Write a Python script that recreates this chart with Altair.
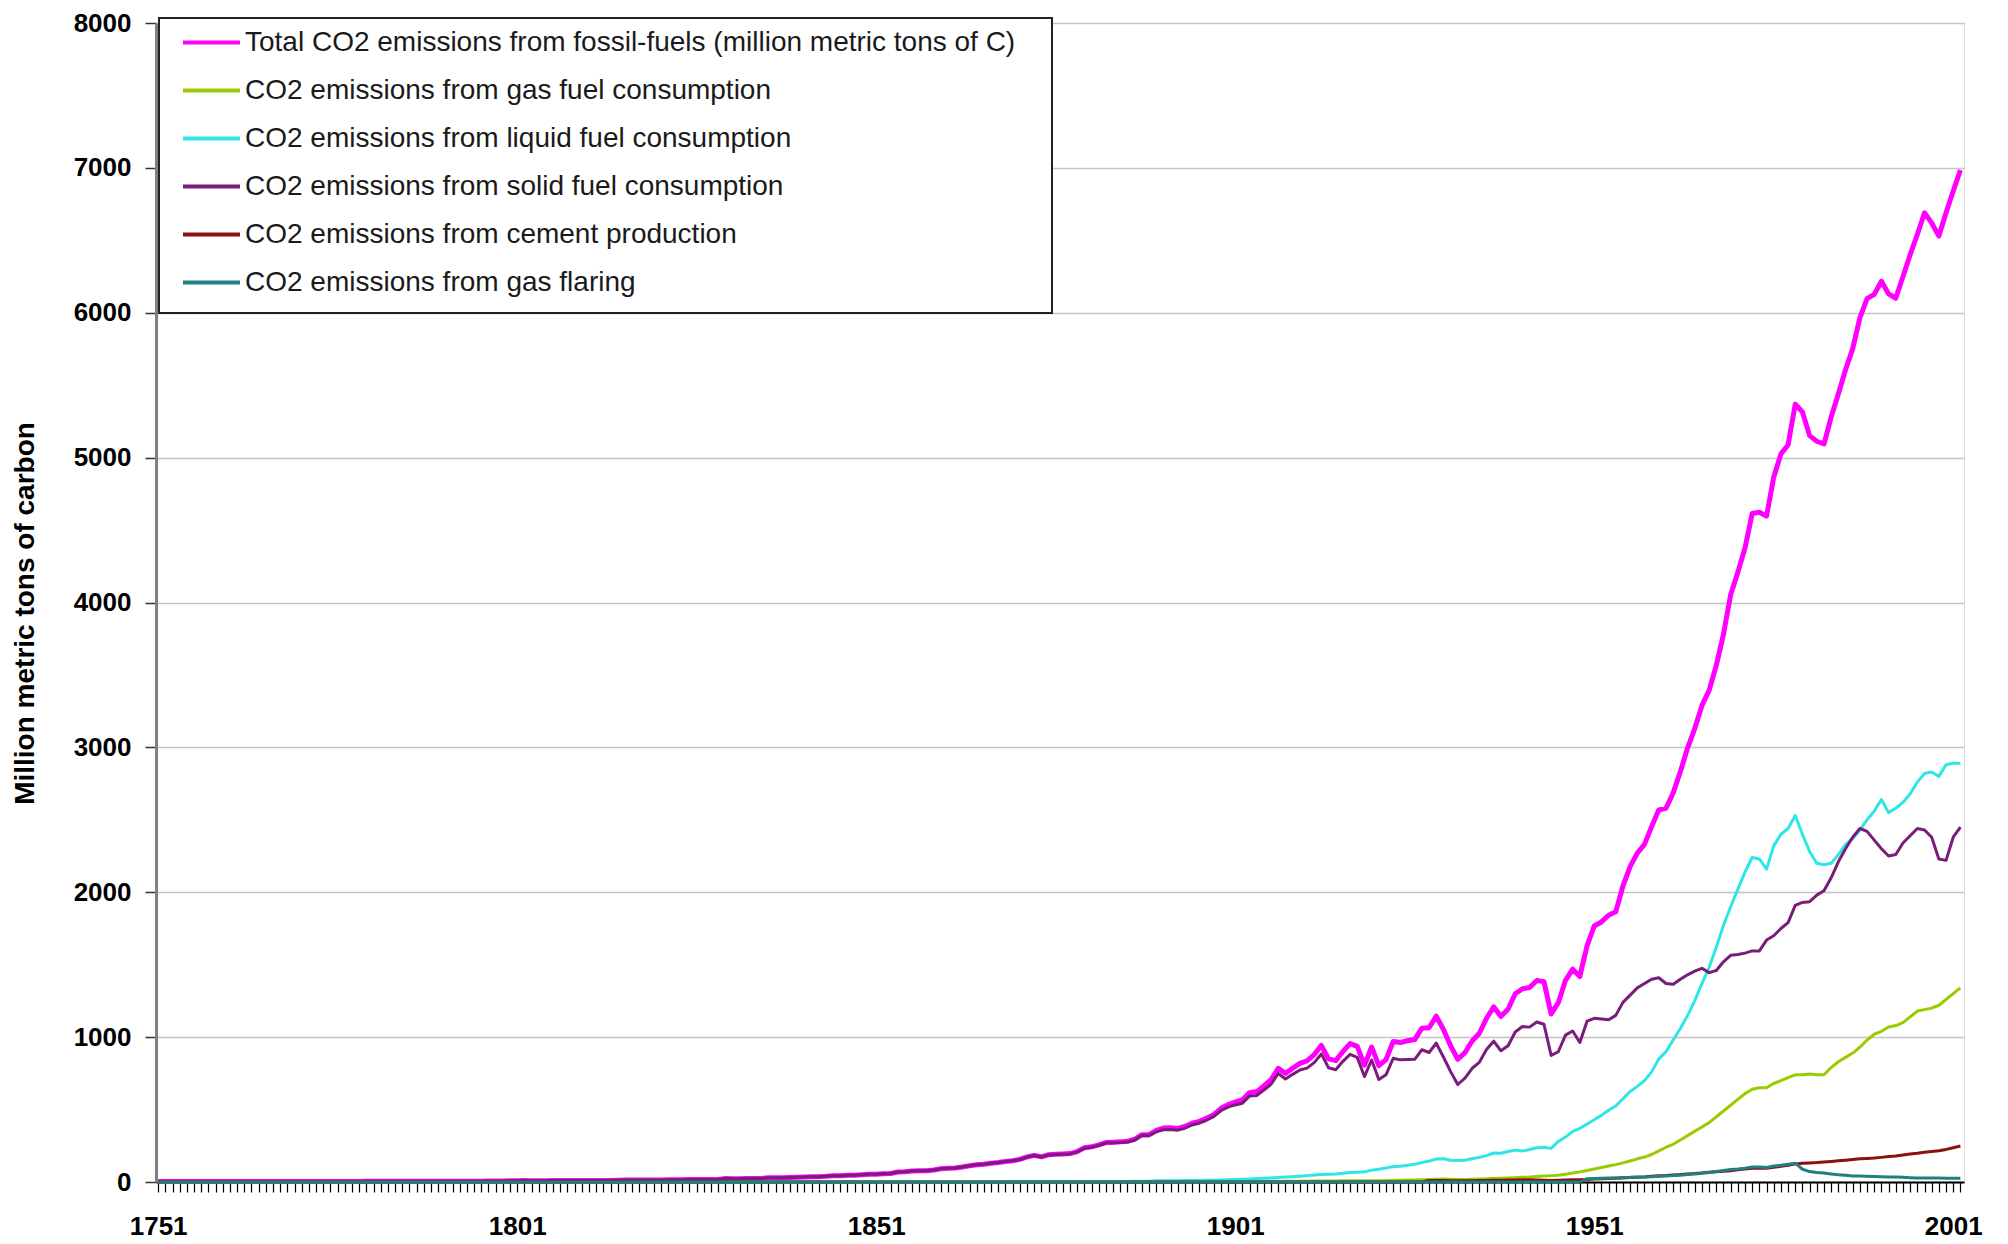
import altair as alt
import pandas as pd

# ---------------- data (million metric tons of carbon) ----------------
FIRST_YEAR = 1751
LAST_YEAR = 2002
YEARS = list(range(FIRST_YEAR, LAST_YEAR + 1))
LABEL_YEARS = [1751, 1801, 1851, 1901, 1951, 2001]
Y_TICKS = [0, 1000, 2000, 3000, 4000, 5000, 6000, 7000, 8000]

SERIES = [
    "Total CO2 emissions from fossil-fuels (million metric tons of C)",
    "CO2 emissions from gas fuel consumption",
    "CO2 emissions from liquid fuel consumption",
    "CO2 emissions from solid fuel consumption",
    "CO2 emissions from cement production",
    "CO2 emissions from gas flaring",
]

# Total, 1751-2002
TOTAL = [
    3, 3, 3, 3, 3, 3, 3, 3, 3, 3,
    3, 3, 3, 3, 3, 3, 3, 3, 3, 3,
    4, 4, 4, 4, 4, 4, 4, 4, 4, 5,
    5, 5, 5, 5, 5, 5, 5, 5, 5, 5,
    6, 6, 6, 6, 6, 6, 7, 7, 7, 8,
    8, 10, 9, 9, 9, 10, 10, 10, 10, 10,
    11, 11, 11, 11, 12, 13, 14, 14, 14, 14,
    14, 15, 16, 16, 17, 17, 18, 18, 18, 24,
    23, 23, 24, 24, 25, 29, 29, 30, 31, 33,
    34, 36, 37, 39, 43, 43, 46, 47, 50, 54,
    54, 57, 59, 69, 71, 76, 77, 78, 83, 91,
    95, 97, 104, 112, 119, 122, 130, 135, 142, 147,
    156, 173, 184, 174, 188, 191, 194, 196, 210, 236,
    243, 256, 272, 275, 277, 281, 295, 327, 327, 356,
    372, 374, 370, 383, 406, 419, 440, 465, 507, 534,
    552, 566, 617, 624, 663, 707, 784, 750, 785, 819,
    836, 879, 943, 850, 838, 901, 955, 936, 806, 932,
    803, 845, 970, 963, 975, 983, 1062, 1065, 1145, 1053,
    940, 847, 893, 973, 1027, 1130, 1209, 1142, 1192, 1299,
    1334, 1342, 1391, 1383, 1160, 1238, 1392, 1469, 1419, 1630,
    1767, 1795, 1841, 1865, 2043, 2177, 2270, 2330, 2454, 2569,
    2580, 2686, 2833, 2995, 3130, 3288, 3393, 3566, 3780, 4053,
    4208, 4376, 4614, 4623, 4596, 4864, 5026, 5087, 5369, 5315,
    5152, 5113, 5094, 5280, 5439, 5607, 5752, 5965, 6097, 6127,
    6217, 6130, 6100, 6250, 6400, 6540, 6690, 6620, 6530, 6690,
    6840, 6985,
]

# Solid fuel, 1751-2002
SOLID = [
    3, 3, 3, 3, 3, 3, 3, 3, 3, 3,
    3, 3, 3, 3, 3, 3, 3, 3, 3, 3,
    4, 4, 4, 4, 4, 4, 4, 4, 4, 5,
    5, 5, 5, 5, 5, 5, 5, 5, 5, 5,
    6, 6, 6, 6, 6, 6, 7, 7, 7, 8,
    8, 10, 9, 9, 9, 10, 10, 10, 10, 10,
    11, 11, 11, 11, 12, 13, 14, 14, 14, 14,
    14, 15, 16, 16, 17, 17, 18, 18, 18, 24,
    23, 23, 24, 24, 25, 29, 29, 30, 31, 33,
    34, 36, 37, 39, 43, 43, 46, 47, 50, 54,
    54, 57, 59, 69, 71, 76, 77, 78, 83, 91,
    95, 97, 104, 112, 119, 122, 130, 135, 142, 146,
    155, 172, 183, 173, 187, 190, 192, 194, 208, 233,
    240, 253, 269, 271, 272, 276, 289, 321, 319, 346,
    361, 363, 358, 371, 394, 406, 426, 451, 492, 517,
    532, 544, 593, 597, 634, 675, 749, 711, 743, 773,
    786, 824, 884, 789, 775, 833, 881, 860, 728, 842,
    707, 740, 854, 843, 846, 847, 913, 894, 958, 863,
    762, 673, 717, 785, 826, 914, 972, 906, 940, 1035,
    1073, 1069, 1104, 1089, 874, 899, 1014, 1042, 963, 1110,
    1130, 1125, 1120, 1150, 1240, 1290, 1340, 1370, 1400, 1410,
    1370, 1365, 1400, 1430, 1455, 1475, 1445, 1460, 1520, 1565,
    1570, 1580, 1595, 1595, 1670, 1700, 1750, 1790, 1910, 1930,
    1935, 1980, 2010, 2100, 2210, 2300, 2380, 2440, 2420, 2360,
    2300, 2250, 2260, 2340, 2390, 2440, 2430, 2380, 2230, 2220,
    2380, 2450,
]

# Liquid fuel, from 1870 (zero before)
LIQUID_START = 1870
LIQUID = [
    1, 1, 1, 1, 1, 1, 1, 2, 2, 2,
    3, 3, 3, 3, 4, 4, 4, 5, 5, 6,
    8, 9, 9, 9, 10, 10, 11, 12, 12, 13,
    15, 17, 19, 21, 24, 26, 28, 31, 34, 37,
    40, 44, 48, 52, 54, 56, 60, 66, 68, 70,
    82, 88, 96, 106, 108, 116, 122, 134, 144, 158,
    160, 150, 148, 150, 160, 170, 182, 200, 198, 210,
    220, 214, 224, 236, 240, 232, 280, 310, 350, 370,
    400, 430, 460, 495, 525, 575, 625, 660, 700, 760,
    850, 900, 980, 1060, 1150, 1250, 1370, 1480, 1620, 1770,
    1900, 2020, 2140, 2240, 2230, 2160, 2320, 2400, 2440, 2530,
    2400, 2280, 2200, 2190, 2200, 2260, 2330, 2370, 2430, 2500,
    2560, 2640, 2550, 2580, 2620, 2680, 2760, 2820, 2830, 2800,
    2880, 2890, 2890,
]

# Gas fuel, from 1885 (zero before)
GAS_START = 1885
GAS = [
    1, 1, 1, 1, 2,
    2, 2, 2, 2, 2, 2, 2, 2, 2, 2,
    2, 3, 3, 3, 3, 3, 4, 4, 5, 5,
    6, 6, 7, 7, 7, 7, 8, 8, 8, 8,
    8, 8, 9, 10, 12, 13, 14, 15, 17, 19,
    20, 19, 18, 18, 19, 21, 23, 25, 26, 28,
    30, 32, 34, 38, 42, 44, 47, 54, 62, 70,
    80, 90, 100, 110, 120, 132, 145, 160, 172, 190,
    215, 240, 260, 290, 320, 350, 380, 410, 450, 490,
    530, 570, 610, 640, 650, 650, 680, 700, 720, 740,
    740, 745, 740, 740, 790, 830, 860, 890, 930, 980,
    1020, 1040, 1070, 1080, 1100, 1140, 1180, 1190, 1200, 1220,
    1260, 1300, 1340,
]

# Cement production, from 1928 (zero before)
CEMENT_START = 1928
CEMENT = [
    10, 10,
    10, 9, 8, 8, 9, 10, 11, 12, 12, 14,
    14, 15, 15, 13, 12, 10, 12, 14, 15, 16,
    18, 20, 22, 24, 26, 28, 31, 33, 35, 39,
    43, 45, 49, 51, 55, 58, 63, 67, 71, 74,
    78, 84, 89, 95, 96, 95, 101, 108, 116, 125,
    130, 132, 134, 138, 142, 146, 150, 155, 160, 163,
    165, 170, 176, 180, 186, 193, 198, 205, 210, 216,
    225, 236, 248,
]

# Gas flaring, from 1950 (zero before)
FLARING_START = 1950
FLARING = [
    23, 24, 26, 27, 27, 31, 32, 35, 35, 36,
    39, 42, 44, 47, 51, 55, 60, 66, 73, 80,
    87, 90, 95, 103, 104, 100, 110, 115, 122, 130,
    88, 72, 66, 62, 56, 50, 46, 42, 41, 40,
    38, 37, 35, 34, 32, 30, 28, 28, 27, 27,
    26, 26, 26,
]

COLORS = ["#FF00FF", "#99CC00", "#2EE6E6", "#7A1C7A", "#8B1010", "#1F8080"]

# ---------------- long table ----------------
def rows(name, start, values):
    out = []
    for yr in YEARS:
        i = yr - start
        v = values[i] if 0 <= i < len(values) else 0
        out.append({"year": yr, "value": v, "series": name})
    return out

records = []
records += rows(SERIES[0], FIRST_YEAR, TOTAL)
records += rows(SERIES[1], GAS_START, GAS)
records += rows(SERIES[2], LIQUID_START, LIQUID)
records += rows(SERIES[3], FIRST_YEAR, SOLID)
records += rows(SERIES[4], CEMENT_START, CEMENT)
records += rows(SERIES[5], FLARING_START, FLARING)
df = pd.DataFrame(records)

FONT = "Liberation Sans"
label_list = ",".join(str(v) for v in LABEL_YEARS)

PLOT_W = 1808
PLOT_H = 1159

x_enc = alt.X(
    "year:Q",
    scale=alt.Scale(domain=[1750.7, 2002.5], nice=False, zero=False),
    axis=alt.Axis(
        values=YEARS,
        labelExpr=f"indexof([{label_list}], datum.value) >= 0 ? format(datum.value, 'd') : ''",
        labelOverlap=False,
        labelFlush=False,
        labelBound=False,
        grid=False,
        title=None,
        tickSize=10,
        tickColor="#000000",
        tickWidth=1.2,
        domainColor="#000000",
        domainWidth=2,
        labelFont=FONT,
        labelFontSize=26,
        labelFontWeight="bold",
        labelColor="#000000",
        labelPadding=21,
    ),
)

y_enc = alt.Y(
    "value:Q",
    scale=alt.Scale(domain=[0, 8000], nice=False),
    axis=alt.Axis(
        values=Y_TICKS,
        format="d",
        title="Million metric tons of carbon",
        titleFont=FONT,
        titleFontSize=28,
        titleFontWeight="bold",
        titleColor="#000000",
        titlePadding=34,
        titleY=590,
        labelFont=FONT,
        labelFontSize=26,
        labelFontWeight="bold",
        labelColor="#000000",
        labelPadding=14,
        labelFlush=False,
        tickSize=11,
        tickColor="#333333",
        tickWidth=1.5,
        domainColor="#808080",
        domainWidth=3,
        grid=True,
        gridColor="#C4C4C4",
        gridWidth=1.5,
    ),
)

color_enc = alt.Color(
    "series:N",
    scale=alt.Scale(domain=SERIES, range=COLORS),
    legend=alt.Legend(
        title=None,
        orient="none",
        legendX=25,
        legendY=-11,
        symbolType="stroke",
        symbolSize=3249,
        symbolStrokeWidth=4,
        labelFont=FONT,
        labelFontSize=28,
        labelColor="#1a1a1a",
        labelLimit=1200,
        labelOffset=3,
        rowPadding=3,
        padding=0,
    ),
)

base = alt.Chart(df).encode(x=x_enc, y=y_enc, color=color_enc)

total_line = base.transform_filter(alt.datum.series == SERIES[0]).mark_line(
    strokeWidth=5, strokeJoin="round"
)
other_lines = base.transform_filter(alt.datum.series != SERIES[0]).mark_line(
    strokeWidth=3, strokeJoin="round"
)

legend_box = alt.Chart(pd.DataFrame({"k": [0]})).mark_rect(
    fill="white", stroke="#222222", strokeWidth=2
).encode(
    x=alt.value(3), x2=alt.value(896), y=alt.value(-5), y2=alt.value(290)
)

chart = (
    alt.layer(total_line, other_lines, legend_box)
    .properties(width=PLOT_W, height=PLOT_H, padding={"left": 3, "top": 2, "right": 5, "bottom": 5})
    .configure_view(stroke="#808080", strokeWidth=2)
    .configure(background="white")
)

chart.save("out.html", embed_options={"renderer": "svg", "actions": False})
